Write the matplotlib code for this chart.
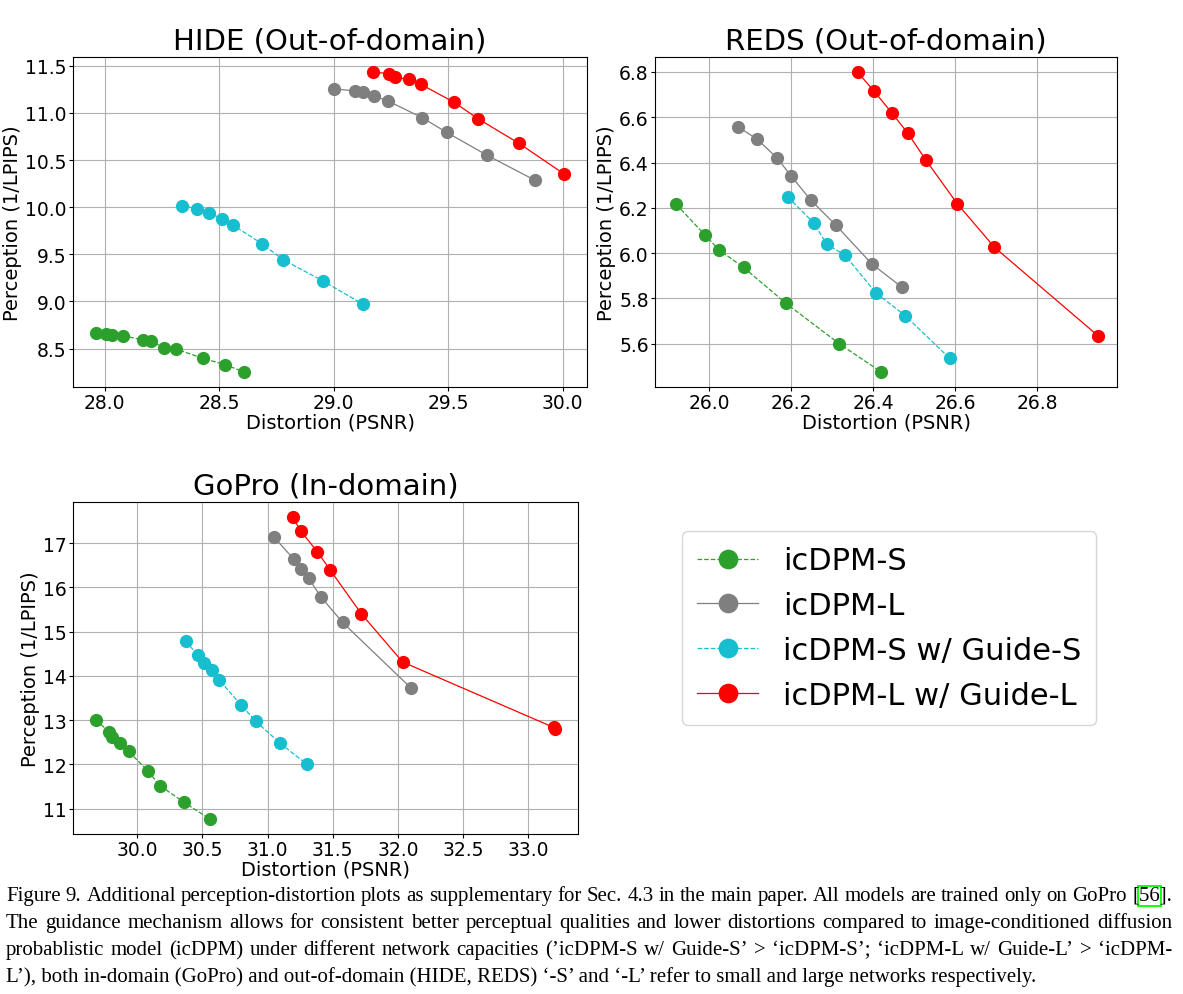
import matplotlib
matplotlib.use('Agg')
import matplotlib.pyplot as plt
from matplotlib.ticker import MultipleLocator, FormatStrFormatter
from matplotlib.patches import Rectangle

W, H = 1183, 995

labels = ['icDPM-S', 'icDPM-L', 'icDPM-S w/ Guide-S', 'icDPM-L w/ Guide-L']
colors = ['#2ca02c', '#7f7f7f', '#17becf', '#ff0000']
styles = ['--', '-', '--', '-']

# HIDE (out-of-domain)
hide_s_x = [27.964, 28.006, 28.031, 28.081, 28.169, 28.201, 28.258, 28.310, 28.428, 28.527, 28.609]
hide_s_y = [8.664, 8.657, 8.646, 8.635, 8.591, 8.584, 8.507, 8.496, 8.397, 8.328, 8.251]
hide_l_x = [29.001, 29.095, 29.130, 29.176, 29.236, 29.385, 29.493, 29.671, 29.879]
hide_l_y = [11.255, 11.233, 11.222, 11.182, 11.127, 10.951, 10.794, 10.549, 10.285]
hide_sg_x = [28.338, 28.404, 28.456, 28.513, 28.560, 28.687, 28.778, 28.953, 29.130]
hide_sg_y = [10.014, 9.985, 9.941, 9.875, 9.810, 9.612, 9.444, 9.217, 8.968]
hide_lg_x = [29.172, 29.241, 29.268, 29.327, 29.382, 29.526, 29.631, 29.809, 30.004]
hide_lg_y = [11.434, 11.416, 11.376, 11.357, 11.302, 11.112, 10.937, 10.677, 10.355]

# REDS (out-of-domain)
reds_s_x = [25.920, 25.991, 26.025, 26.084, 26.187, 26.318, 26.420]
reds_s_y = [6.215, 6.078, 6.013, 5.937, 5.779, 5.599, 5.475]
reds_l_x = [26.071, 26.118, 26.166, 26.200, 26.248, 26.309, 26.397, 26.470]
reds_l_y = [6.558, 6.502, 6.420, 6.341, 6.234, 6.124, 5.952, 5.850]
reds_sg_x = [26.192, 26.255, 26.287, 26.331, 26.407, 26.479, 26.587]
reds_sg_y = [6.248, 6.134, 6.039, 5.992, 5.824, 5.723, 5.535]
reds_lg_x = [26.362, 26.402, 26.445, 26.485, 26.528, 26.605, 26.696, 26.948]
reds_lg_y = [6.800, 6.716, 6.621, 6.529, 6.413, 6.219, 6.026, 5.636]

# GoPro (in-domain)
gopro_s_x = [29.683, 29.780, 29.808, 29.870, 29.934, 30.082, 30.174, 30.358, 30.555]
gopro_s_y = [13.006, 12.743, 12.608, 12.473, 12.293, 11.850, 11.520, 11.144, 10.769]
gopro_l_x = [31.051, 31.199, 31.256, 31.315, 31.409, 31.575, 32.102]
gopro_l_y = [17.128, 16.640, 16.422, 16.204, 15.784, 15.206, 13.719]
gopro_sg_x = [30.371, 30.468, 30.514, 30.570, 30.627, 30.793, 30.908, 31.095, 31.299]
gopro_sg_y = [14.778, 14.462, 14.297, 14.132, 13.914, 13.351, 12.976, 12.480, 12.007]
gopro_lg_x = [31.192, 31.256, 31.381, 31.478, 31.719, 32.036, 33.195, 33.205]
gopro_lg_y = [17.586, 17.263, 16.805, 16.399, 15.401, 14.312, 12.835, 12.800]

caption = [
    "Figure 9. Additional perception-distortion plots as supplementary for Sec. 4.3 in the main paper. All models are trained only on GoPro [56].",
    "The guidance mechanism allows for consistent better perceptual qualities and lower distortions compared to image-conditioned diffusion",
    "probablistic model (icDPM) under different network capacities (\u2019icDPM-S w/ Guide-S\u2019 > \u2018icDPM-S\u2019; \u2018icDPM-L w/ Guide-L\u2019 > \u2018icDPM-",
    "L\u2019), both in-domain (GoPro) and out-of-domain (HIDE, REDS) \u2018-S\u2019 and \u2018-L\u2019 refer to small and large networks respectively.",
]


def px_rect(l, r, t, b):
    return [l / W, 1 - b / H, (r - l) / W, (b - t) / H]


def draw_panel(ax, title, series, xstep, ystep):
    for (xs, ys), c, ls, lab in zip(series, colors, styles, labels):
        ax.plot(xs, ys, ls, color=c, marker='o', markersize=8.5, linewidth=0.9, label=lab)
    ax.set_title(title, fontsize=21)
    ax.set_xlabel('Distortion (PSNR)', fontsize=14, labelpad=0)
    ax.set_ylabel('Perception (1/LPIPS)', fontsize=14, labelpad=2)
    ax.xaxis.set_major_locator(MultipleLocator(xstep))
    ax.yaxis.set_major_locator(MultipleLocator(ystep))
    ax.tick_params(labelsize=13.5, length=3, pad=1.5)
    ax.grid(True)


fig = plt.figure(figsize=(W / 100, H / 100), dpi=100)

ax1 = fig.add_axes(px_rect(73, 587, 58, 388))
draw_panel(ax1, 'HIDE (Out-of-domain)',
           [(hide_s_x, hide_s_y), (hide_l_x, hide_l_y), (hide_sg_x, hide_sg_y), (hide_lg_x, hide_lg_y)], 0.5, 0.5)
ax1.yaxis.set_major_formatter(FormatStrFormatter('%.1f'))
ax1.xaxis.set_major_formatter(FormatStrFormatter('%.1f'))

ax2 = fig.add_axes(px_rect(655, 1117, 58, 388))
draw_panel(ax2, 'REDS (Out-of-domain)',
           [(reds_s_x, reds_s_y), (reds_l_x, reds_l_y), (reds_sg_x, reds_sg_y), (reds_lg_x, reds_lg_y)], 0.2, 0.2)
ax2.yaxis.set_major_formatter(FormatStrFormatter('%.1f'))
ax2.xaxis.set_major_formatter(FormatStrFormatter('%.1f'))
ax2.set_xlim(25.868, 26.995)

ax3 = fig.add_axes(px_rect(73, 578, 503, 835))
draw_panel(ax3, 'GoPro (In-domain)',
           [(gopro_s_x, gopro_s_y), (gopro_l_x, gopro_l_y), (gopro_sg_x, gopro_sg_y), (gopro_lg_x, gopro_lg_y)], 0.5, 1)
ax3.xaxis.set_major_formatter(FormatStrFormatter('%.1f'))

handles, labs = ax3.get_legend_handles_labels()
fig.legend(handles, labs, loc='upper left', bbox_to_anchor=(682 / W, 1 - 532 / H), borderaxespad=0,
           fontsize=22, markerscale=1.55, borderpad=0.5, labelspacing=0.52, handletextpad=0.8)

# caption, justified like the paper
r = fig.canvas.get_renderer()
serif = 'Liberation Serif'
probe = fig.text(0, 0, caption[0], fontsize=10, family=serif)
size = 10 * 1167 / probe.get_window_extent(r).width
probe.remove()

x0, x1 = 6, 1172
baselines = [901, 928, 955, 982]
for i, line in enumerate(caption):
    y = 1 - baselines[i] / H
    if i == 3:
        fig.text(x0 / W, y, line, fontsize=size, family=serif, va='baseline')
        continue
    words = line.split(' ')
    arts = [fig.text(0, y, w, fontsize=size, family=serif, va='baseline') for w in words]
    widths = [a.get_window_extent(r).width for a in arts]
    gap = (x1 - x0 - sum(widths)) / (len(words) - 1)
    x = x0
    for a, w in zip(arts, widths):
        a.set_x(x / W)
        x += w + gap
    if i == 0:
        last = arts[-1]
        lx = last.get_position()[0] * W
        t1 = fig.text(0, 0, '[', fontsize=size, family=serif)
        t2 = fig.text(0, 0, '[56', fontsize=size, family=serif)
        wa = t1.get_window_extent(r).width
        wb = t2.get_window_extent(r).width
        t1.remove()
        t2.remove()
        hb = last.get_window_extent(r)
        fig.add_artist(Rectangle(((lx + wa - 1) / W, (hb.y0 - 1) / H), (wb - wa + 2) / W, (hb.height + 1) / H,
                                 fill=False, edgecolor='#00ff00', linewidth=1.3, transform=fig.transFigure))

fig.savefig('out.png', dpi=100)
